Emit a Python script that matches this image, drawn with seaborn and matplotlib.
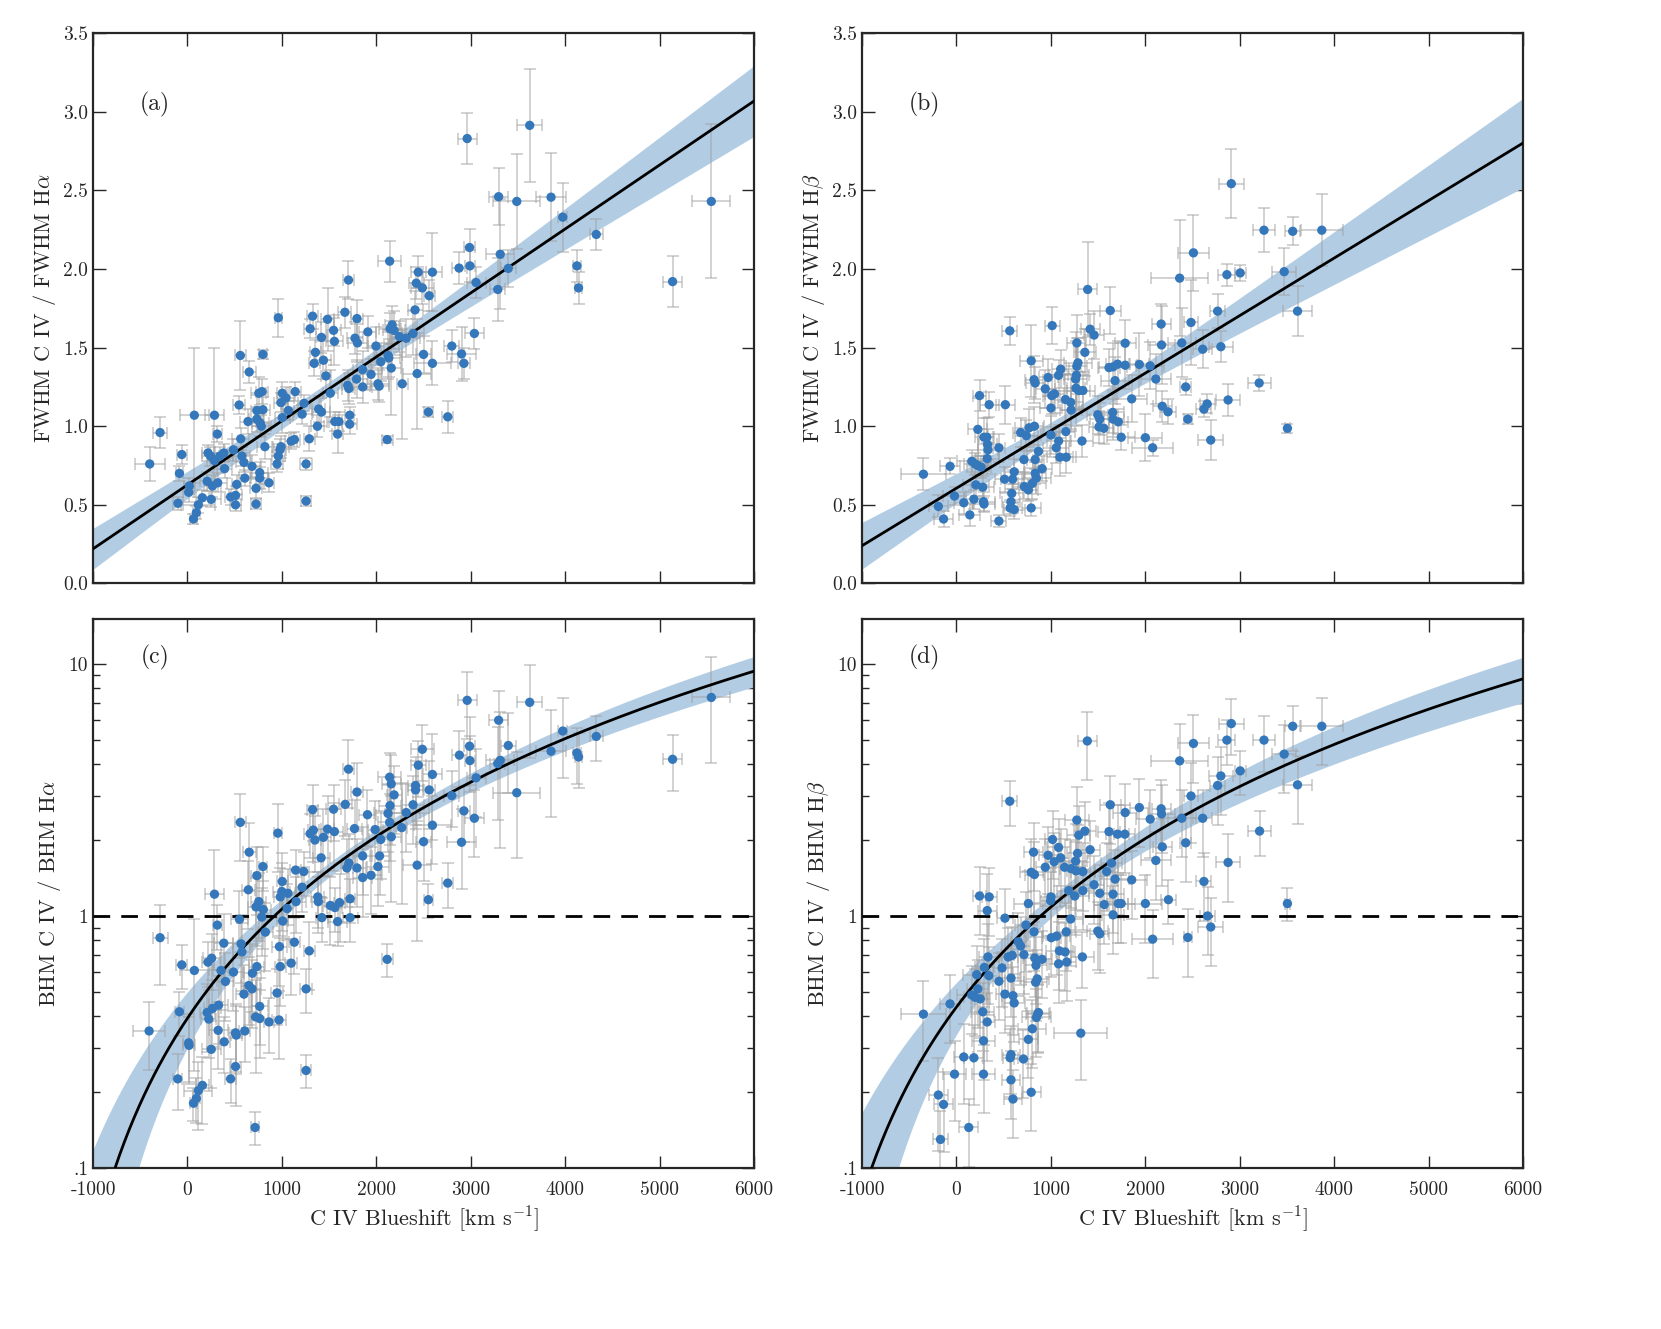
import numpy as np
import pandas as pd
import matplotlib
matplotlib.use('Agg')
import matplotlib.pyplot as plt
import seaborn as sns
from matplotlib.ticker import FixedLocator, FuncFormatter, LogLocator, NullFormatter

# (blueshift, ratio, blueshift error, ratio error)
pts_a = [(-400, 0.76, 160, 0.11), (-290, 0.96, 70, 0.10), (-60, 0.82, 50, 0.06), (-85, 0.70, 40, 0.05),
         (-100, 0.51, 50, 0.04), (13, 0.58, 60, 0.06), (20, 0.62, 60, 0.05), (73, 1.07, 150, 0.43),
         (64, 0.41, 40, 0.03), (94, 0.45, 40, 0.04), (115, 0.50, 180, 0.05), (158, 0.545, 70, 0.05),
         (252, 0.535, 100, 0.05), (218, 0.83, 60, 0.05), (244, 0.81, 90, 0.06), (286, 1.07, 100, 0.43),
         (316, 0.95, 50, 0.05), (209, 0.65, 80, 0.06), (265, 0.62, 90, 0.07), (320, 0.64, 100, 0.06),
         (286, 0.78, 80, 0.05), (342, 0.81, 100, 0.06), (393, 0.73, 80, 0.06), (385, 0.83, 90, 0.06),
         (457, 0.55, 60, 0.05), (509, 0.56, 70, 0.06), (509, 0.50, 60, 0.04), (521, 0.63, 50, 0.06),
         (487, 0.85, 100, 0.07), (564, 0.92, 90, 0.07), (577, 0.81, 90, 0.06), (598, 0.77, 80, 0.06),
         (607, 0.67, 60, 0.05), (547, 1.135, 60, 0.06), (560, 1.45, 60, 0.22), (654, 1.345, 70, 0.07),
         (641, 1.03, 80, 0.08), (684, 0.745, 90, 0.07), (726, 0.605, 60, 0.06), (726, 0.505, 50, 0.03),
         (765, 0.67, 90, 0.07), (765, 0.705, 90, 0.07), (863, 0.64, 50, 0.06), (820, 0.87, 80, 0.08),
         (735, 1.10, 60, 0.10), (756, 1.21, 80, 0.10), (790, 1.22, 60, 0.08), (799, 1.457, 40, 0.03),
         (799, 1.105, 80, 0.08), (735, 1.045, 80, 0.08), (770, 1.02, 90, 0.08), (782, 1.00, 100, 0.07),
         (949, 0.76, 60, 0.05), (962, 0.81, 70, 0.08), (979, 0.85, 60, 0.07), (991, 0.87, 80, 0.07),
         (962, 1.69, 40, 0.12), (991, 1.15, 70, 0.06), (1004, 1.21, 60, 0.07), (1043, 1.18, 90, 0.07),
         (1068, 1.10, 60, 0.06), (1004, 1.055, 80, 0.10), (1141, 1.22, 60, 0.06), (1098, 0.905, 60, 0.05),
         (1132, 0.915, 60, 0.05), (1214, 1.077, 100, 0.06), (1256, 0.76, 60, 0.04), (1256, 0.524, 50, 0.03),
         (1235, 1.146, 60, 0.05), (1290, 0.92, 60, 0.08), (1299, 1.62, 60, 0.06), (1325, 1.70, 60, 0.08),
         (1342, 1.40, 60, 0.08), (1355, 1.47, 60, 0.08), (1376, 1.00, 70, 0.07), (1389, 1.11, 70, 0.08),
         (1419, 1.09, 90, 0.09), (1419, 1.565, 60, 0.10), (1440, 1.42, 80, 0.12), (1466, 1.32, 50, 0.10),
         (1483, 1.68, 70, 0.20), (1513, 1.21, 80, 0.15), (1547, 1.61, 80, 0.10), (1556, 1.54, 90, 0.15),
         (1560, 1.03, 80, 0.06), (1603, 1.03, 100, 0.06), (1590, 0.95, 60, 0.12), (1667, 1.725, 70, 0.10),
         (1705, 1.93, 60, 0.12), (1697, 1.26, 60, 0.10), (1709, 1.24, 70, 0.10), (1718, 1.07, 50, 0.05),
         (1718, 1.013, 80, 0.06), (1774, 1.56, 80, 0.10), (1795, 1.685, 60, 0.12), (1800, 1.53, 100, 0.12),
         (1791, 1.30, 120, 0.12), (1855, 1.36, 100, 0.12), (1855, 1.25, 100, 0.10), (1910, 1.60, 90, 0.10),
         (1944, 1.33, 120, 0.10), (1996, 1.51, 80, 0.12), (2017, 1.27, 120, 0.10), (2030, 1.255, 100, 0.10),
         (2047, 1.41, 120, 0.12), (2124, 1.45, 150, 0.15), (2132, 1.435, 120, 0.12), (2115, 0.915, 60, 0.02),
         (2141, 2.05, 120, 0.13), (2158, 1.37, 100, 0.30), (2145, 1.62, 120, 0.10), (2167, 1.645, 80, 0.12),
         (2188, 1.61, 120, 0.12), (2244, 1.57, 100, 0.10), (2274, 1.27, 60, 0.35), (2316, 1.56, 150, 0.12),
         (2389, 1.59, 120, 0.14), (2410, 1.74, 80, 0.12), (2423, 1.91, 80, 0.10), (2444, 1.98, 80, 0.10),
         (2487, 1.88, 120, 0.10), (2500, 1.457, 80, 0.12), (2432, 1.335, 150, 0.35), (2551, 1.09, 50, 0.03),
         (2560, 1.83, 60, 0.10), (2594, 1.98, 100, 0.25), (2594, 1.40, 200, 0.14), (2756, 1.06, 60, 0.10),
         (2799, 1.51, 80, 0.10), (2876, 2.006, 80, 0.10), (2902, 1.46, 150, 0.17), (2927, 1.40, 60, 0.10),
         (2962, 2.83, 100, 0.16), (2987, 2.137, 60, 0.12), (2991, 2.02, 50, 0.10), (3038, 1.59, 100, 0.10),
         (3056, 1.914, 100, 0.10), (3286, 1.87, 80, 0.20), (3295, 2.46, 100, 0.18), (3312, 2.094, 150, 0.35),
         (3397, 2.004, 80, 0.12), (3487, 2.43, 250, 0.30), (3624, 2.914, 130, 0.36), (3850, 2.457, 160, 0.28),
         (3974, 2.33, 50, 0.22), (4124, 2.02, 40, 0.10), (4141, 1.88, 40, 0.10), (4329, 2.22, 70, 0.10),
         (5137, 1.92, 100, 0.16), (5547, 2.43, 200, 0.49)]

pts_b = [(-350, 0.695, 240, 0.10), (-68, 0.745, 110, 0.05), (-192, 0.49, 100, 0.07), (-137, 0.41, 100, 0.05),
         (-21, 0.556, 120, 0.06), (77, 0.513, 100, 0.07), (141, 0.436, 110, 0.07), (184, 0.536, 100, 0.06),
         (162, 0.777, 160, 0.07), (197, 0.76, 120, 0.07), (226, 0.75, 120, 0.06), (261, 0.74, 100, 0.07),
         (205, 0.627, 140, 0.07), (278, 0.612, 120, 0.07), (286, 0.52, 120, 0.06), (291, 0.505, 120, 0.05),
         (226, 0.98, 100, 0.20), (244, 1.195, 70, 0.10), (291, 0.93, 100, 0.12), (321, 0.93, 80, 0.12),
         (329, 0.884, 100, 0.10), (333, 0.85, 110, 0.10), (325, 0.794, 120, 0.10), (346, 1.137, 100, 0.08),
         (449, 0.863, 60, 0.09), (449, 0.397, 80, 0.04), (509, 0.663, 100, 0.08), (517, 1.137, 100, 0.12),
         (564, 1.607, 80, 0.09), (568, 0.48, 80, 0.05), (577, 0.52, 100, 0.08), (585, 0.573, 120, 0.06),
         (594, 0.663, 120, 0.06), (611, 0.71, 110, 0.08), (611, 0.47, 110, 0.06), (679, 0.96, 80, 0.09),
         (714, 0.788, 100, 0.08), (718, 0.616, 120, 0.08), (761, 0.595, 100, 0.07), (739, 0.94, 120, 0.10),
         (769, 0.99, 150, 0.12), (791, 1.416, 120, 0.23), (791, 0.48, 100, 0.05), (803, 0.637, 150, 0.10),
         (821, 1.296, 100, 0.15), (833, 1.275, 100, 0.10), (825, 1.00, 100, 0.12), (833, 0.788, 90, 0.06),
         (833, 0.70, 120, 0.07), (846, 0.67, 150, 0.10), (868, 0.84, 120, 0.10), (906, 0.73, 100, 0.08),
         (940, 1.238, 100, 0.12), (970, 1.31, 100, 0.12), (1000, 1.116, 120, 0.12), (1000, 0.944, 100, 0.12),
         (1013, 1.64, 80, 0.12), (1009, 1.195, 90, 0.12), (1038, 1.206, 100, 0.12), (1056, 0.863, 140, 0.10),
         (1081, 0.906, 120, 0.10), (1094, 0.803, 140, 0.12), (1081, 1.324, 100, 0.10), (1103, 1.363, 90, 0.12),
         (1154, 1.17, 120, 0.16), (1158, 0.966, 100, 0.14), (1162, 0.803, 100, 0.10), (1209, 1.152, 130, 0.18),
         (1214, 1.103, 120, 0.12), (1261, 1.30, 120, 0.30), (1269, 1.324, 130, 0.22), (1274, 1.382, 110, 0.18),
         (1286, 1.403, 150, 0.16), (1274, 1.53, 100, 0.18), (1265, 1.242, 100, 0.12), (1295, 1.227, 120, 0.12),
         (1329, 0.906, 120, 0.10), (1338, 1.227, 130, 0.12), (1359, 1.47, 120, 0.15), (1389, 1.87, 100, 0.30),
         (1415, 1.617, 100, 0.10), (1457, 1.58, 110, 0.15), (1496, 1.073, 110, 0.12), (1517, 1.045, 100, 0.10),
         (1509, 0.996, 110, 0.10), (1560, 0.987, 110, 0.10), (1615, 1.373, 120, 0.12), (1628, 1.736, 110, 0.15),
         (1654, 1.088, 120, 0.13), (1658, 1.045, 120, 0.13), (1658, 1.378, 150, 0.15), (1679, 1.29, 150, 0.15),
         (1705, 1.395, 120, 0.15), (1714, 1.028, 100, 0.08), (1744, 0.93, 150, 0.08), (1786, 1.528, 110, 0.15),
         (1786, 1.388, 130, 0.15), (1855, 1.174, 160, 0.15), (1936, 1.393, 100, 0.20), (2000, 0.927, 180, 0.15),
         (2051, 1.384, 150, 0.15), (2077, 0.863, 220, 0.05), (2111, 1.30, 160, 0.16), (2167, 1.65, 100, 0.13),
         (2171, 1.517, 140, 0.25), (2179, 1.127, 100, 0.10), (2239, 1.092, 80, 0.08), (2363, 1.942, 300, 0.37),
         (2385, 1.53, 150, 0.22), (2427, 1.25, 60, 0.05), (2449, 1.045, 40, 0.03), (2483, 1.66, 70, 0.27),
         (2509, 2.103, 160, 0.24), (2607, 1.49, 100, 0.12), (2620, 1.109, 80, 0.05), (2654, 1.142, 80, 0.06),
         (2692, 0.912, 130, 0.13), (2765, 1.732, 80, 0.11), (2799, 1.506, 130, 0.10), (2863, 1.964, 90, 0.07),
         (2876, 1.167, 130, 0.10), (2910, 2.543, 130, 0.22), (3004, 1.975, 60, 0.05), (3205, 1.275, 120, 0.05),
         (3256, 2.247, 120, 0.14), (3470, 1.983, 130, 0.15), (3504, 0.987, 30, 0.03), (3560, 2.24, 80, 0.09),
         (3611, 1.732, 150, 0.16), (3868, 2.247, 220, 0.23)]

# (blueshift, ratio, blueshift error, relative ratio error)
pts_c = [(-406, 0.35, 170, 0.3), (-290, 0.82, 80, 0.35), (-60, 0.64, 60, 0.2), (-85, 0.417, 50, 0.2),
         (-103, 0.226, 50, 0.25), (13, 0.314, 60, 0.3), (17, 0.307, 60, 0.3), (73, 0.608, 150, 0.6),
         (64, 0.181, 40, 0.15), (94, 0.189, 40, 0.2), (115, 0.203, 150, 0.3), (158, 0.213, 70, 0.3),
         (252, 0.296, 100, 0.3), (218, 0.656, 60, 0.2), (256, 0.68, 90, 0.25), (286, 1.22, 100, 0.5),
         (316, 0.92, 50, 0.2), (209, 0.414, 80, 0.3), (226, 0.39, 80, 0.3), (265, 0.43, 90, 0.3),
         (329, 0.443, 100, 0.3), (325, 0.352, 100, 0.3), (385, 0.78, 100, 0.3), (355, 0.608, 80, 0.3),
         (402, 0.55, 90, 0.3), (389, 0.317, 60, 0.25), (457, 0.226, 60, 0.2), (509, 0.253, 60, 0.3),
         (509, 0.344, 70, 0.3), (517, 0.337, 60, 0.3), (487, 0.599, 100, 0.3), (551, 0.97, 90, 0.3),
         (560, 2.35, 60, 0.3), (568, 0.775, 90, 0.3), (577, 0.72, 90, 0.3), (598, 0.49, 80, 0.3),
         (607, 0.35, 60, 0.25), (645, 1.27, 70, 0.3), (654, 1.79, 70, 0.3), (650, 0.53, 80, 0.3),
         (684, 0.514, 90, 0.3), (688, 0.593, 90, 0.3), (735, 1.445, 60, 0.3), (735, 0.63, 80, 0.3),
         (726, 1.086, 80, 0.3), (756, 1.14, 80, 0.3), (765, 0.438, 90, 0.3), (722, 0.398, 60, 0.4),
         (765, 0.392, 90, 0.3), (786, 0.99, 60, 0.3), (799, 1.57, 40, 0.2), (803, 1.06, 80, 0.3),
         (825, 0.863, 80, 0.3), (863, 0.38, 50, 0.25), (957, 2.13, 40, 0.3), (949, 0.495, 60, 0.25),
         (970, 0.387, 70, 0.3), (974, 0.756, 80, 0.3), (983, 0.63, 60, 0.3), (983, 1.19, 70, 0.3),
         (1004, 1.37, 60, 0.3), (1000, 1.25, 90, 0.3), (1009, 0.955, 60, 0.3), (1056, 1.07, 60, 0.25),
         (1064, 1.23, 80, 0.25), (1098, 0.65, 60, 0.25), (1132, 0.787, 60, 0.25), (1150, 1.14, 100, 0.25),
         (1145, 1.52, 60, 0.2), (1214, 1.30, 60, 0.2), (1231, 1.5, 60, 0.2), (1256, 0.514, 60, 0.2),
         (1256, 0.244, 50, 0.15), (1290, 0.727, 60, 0.3), (1299, 2.12, 60, 0.2), (1325, 2.64, 60, 0.25),
         (1333, 2.19, 60, 0.25), (1350, 2.0, 60, 0.25), (1380, 1.19, 70, 0.25), (1385, 1.14, 70, 0.25),
         (1415, 1.7, 90, 0.3), (1423, 0.985, 60, 0.2), (1440, 2.05, 80, 0.3), (1483, 2.21, 70, 0.35),
         (1513, 1.1, 80, 0.3), (1547, 2.65, 80, 0.25), (1556, 2.16, 90, 0.3), (1560, 1.08, 80, 0.2),
         (1590, 0.95, 100, 0.2), (1611, 1.13, 60, 0.3), (1671, 2.77, 70, 0.25), (1705, 3.82, 60, 0.3),
         (1688, 1.55, 60, 0.3), (1709, 1.62, 70, 0.3), (1722, 1.17, 50, 0.2), (1722, 0.985, 80, 0.2),
         (1769, 2.22, 80, 0.3), (1795, 3.1, 60, 0.3), (1795, 1.55, 100, 0.3), (1855, 1.73, 100, 0.3),
         (1855, 1.42, 100, 0.3), (1906, 2.52, 90, 0.25), (1944, 1.45, 120, 0.3), (1987, 2.2, 80, 0.3),
         (2017, 1.57, 120, 0.3), (2034, 1.73, 100, 0.3), (2047, 2.01, 120, 0.3), (2115, 0.673, 60, 0.15),
         (2124, 2.55, 150, 0.3), (2141, 3.55, 120, 0.25), (2145, 2.74, 120, 0.3), (2158, 3.34, 100, 0.3),
         (2158, 2.06, 100, 0.45), (2188, 3.02, 80, 0.3), (2141, 2.35, 120, 0.3), (2269, 2.24, 60, 0.5),
         (2316, 2.57, 150, 0.3), (2389, 2.76, 120, 0.3), (2415, 3.29, 80, 0.3), (2415, 3.16, 80, 0.3),
         (2432, 1.59, 150, 0.5), (2444, 3.96, 80, 0.25), (2487, 4.58, 120, 0.25), (2500, 1.97, 80, 0.3),
         (2551, 1.16, 50, 0.15), (2560, 3.16, 60, 0.3), (2594, 3.64, 100, 0.45), (2594, 2.29, 200, 0.3),
         (2756, 1.35, 60, 0.2), (2799, 3.0, 80, 0.25), (2880, 4.34, 80, 0.25), (2902, 1.96, 150, 0.35),
         (2927, 2.61, 60, 0.25), (2962, 7.16, 100, 0.3), (2987, 4.71, 60, 0.3), (2991, 4.13, 50, 0.25),
         (3038, 2.44, 100, 0.3), (3056, 3.53, 100, 0.3), (3286, 4.02, 80, 0.4), (3295, 5.97, 100, 0.3),
         (3312, 4.14, 150, 0.55), (3397, 4.74, 80, 0.35), (3487, 3.08, 250, 0.45), (3624, 7.03, 130, 0.4),
         (3850, 4.5, 160, 0.45), (3974, 5.41, 50, 0.35), (4124, 4.43, 40, 0.25), (4141, 4.27, 40, 0.25),
         (4329, 5.15, 70, 0.2), (5137, 4.18, 100, 0.25), (5547, 7.35, 200, 0.45), (716, 0.145, 40, 0.15)]

pts_d = [(-350, 0.408, 240, 0.35), (-68, 0.448, 110, 0.3), (-192, 0.195, 100, 0.4), (-137, 0.179, 100, 0.35),
         (-21, 0.236, 120, 0.35), (77, 0.276, 100, 0.35), (184, 0.274, 100, 0.35), (162, 0.486, 160, 0.3),
         (197, 0.476, 120, 0.3), (226, 0.514, 120, 0.3), (252, 0.469, 100, 0.3), (214, 0.585, 140, 0.3),
         (278, 0.417, 120, 0.3), (286, 0.32, 120, 0.3), (286, 0.236, 120, 0.3), (244, 1.2, 70, 0.3),
         (346, 1.19, 80, 0.3), (325, 1.05, 100, 0.4), (295, 0.625, 100, 0.3), (325, 0.38, 80, 0.3),
         (333, 0.688, 100, 0.35), (342, 0.58, 120, 0.3), (449, 0.551, 60, 0.3), (483, 0.622, 100, 0.3),
         (513, 0.98, 80, 0.3), (513, 0.49, 100, 0.3), (564, 2.85, 80, 0.2), (547, 0.688, 100, 0.3),
         (577, 0.567, 100, 0.3), (590, 0.698, 120, 0.3), (598, 0.483, 120, 0.3), (611, 0.452, 110, 0.3),
         (568, 0.274, 80, 0.3), (577, 0.282, 100, 0.3), (577, 0.224, 100, 0.3), (598, 0.188, 100, 0.3),
         (654, 0.79, 80, 0.3), (679, 0.76, 100, 0.3), (714, 0.703, 100, 0.3), (709, 0.271, 100, 0.3),
         (735, 0.92, 120, 0.35), (761, 1.12, 150, 0.35), (761, 0.324, 100, 0.3), (791, 1.49, 120, 0.35),
         (816, 1.79, 100, 0.3), (825, 1.46, 100, 0.35), (821, 0.865, 100, 0.3), (803, 0.357, 150, 0.3),
         (791, 0.2, 100, 0.3), (829, 0.681, 120, 0.3), (842, 0.637, 120, 0.3), (838, 0.546, 120, 0.3),
         (855, 0.563, 120, 0.3), (846, 0.396, 150, 0.3), (859, 0.408, 120, 0.3), (868, 0.414, 120, 0.3),
         (906, 0.673, 100, 0.3), (940, 1.56, 100, 0.3), (970, 1.74, 100, 0.3), (1000, 1.19, 120, 0.3),
         (996, 1.15, 100, 0.3), (1004, 0.82, 100, 0.3), (1017, 2.01, 80, 0.3), (1034, 1.64, 90, 0.3),
         (1060, 0.832, 140, 0.3), (1081, 1.87, 120, 0.3), (1090, 0.727, 140, 0.3), (1081, 0.646, 100, 0.3),
         (1103, 1.7, 90, 0.3), (1145, 1.56, 120, 0.3), (1150, 0.72, 100, 0.3), (1162, 0.865, 100, 0.3),
         (1167, 0.657, 100, 0.3), (1209, 0.973, 130, 0.35), (1188, 1.26, 120, 0.3), (1214, 1.54, 120, 0.3),
         (1261, 1.65, 120, 0.4), (1274, 2.4, 130, 0.35), (1282, 1.77, 110, 0.3), (1252, 1.2, 150, 0.3),
         (1265, 1.51, 100, 0.3), (1295, 2.09, 120, 0.3), (1333, 0.688, 120, 0.25), (1338, 1.5, 130, 0.3),
         (1338, 1.26, 120, 0.3), (1316, 0.343, 280, 0.35), (1359, 2.17, 120, 0.3), (1385, 4.94, 100, 0.3),
         (1415, 1.83, 100, 0.3), (1457, 1.33, 110, 0.3), (1496, 0.871, 110, 0.3), (1517, 0.849, 100, 0.3),
         (1517, 1.23, 110, 0.3), (1564, 1.11, 110, 0.3), (1590, 1.5, 120, 0.3), (1615, 2.16, 120, 0.3),
         (1628, 2.76, 110, 0.3), (1641, 1.62, 110, 0.3), (1658, 1.22, 120, 0.3), (1658, 1.01, 120, 0.3),
         (1679, 1.4, 150, 0.3), (1705, 2.11, 120, 0.3), (1714, 1.12, 100, 0.3), (1744, 1.12, 150, 0.3),
         (1782, 2.11, 110, 0.3), (1786, 2.57, 130, 0.3), (1855, 1.39, 160, 0.3), (1936, 2.69, 100, 0.3),
         (2000, 1.12, 180, 0.3), (2051, 2.42, 150, 0.3), (2077, 0.809, 220, 0.3), (2111, 1.66, 160, 0.3),
         (2167, 2.66, 100, 0.3), (2171, 2.54, 140, 0.3), (2179, 1.88, 100, 0.3), (2244, 1.16, 80, 0.2),
         (2363, 4.12, 300, 0.4), (2385, 2.44, 150, 0.3), (2427, 1.95, 60, 0.3), (2449, 0.822, 40, 0.3),
         (2483, 2.99, 70, 0.35), (2509, 4.83, 160, 0.3), (2607, 2.44, 100, 0.3), (2620, 1.37, 80, 0.3),
         (2658, 1.0, 80, 0.3), (2692, 0.904, 130, 0.3), (2765, 3.29, 80, 0.3), (2799, 3.59, 130, 0.3),
         (2863, 4.98, 90, 0.2), (2876, 1.63, 130, 0.3), (2910, 5.79, 130, 0.25), (3004, 3.76, 60, 0.2),
         (3209, 2.17, 120, 0.2), (3256, 4.98, 120, 0.25), (3470, 4.38, 130, 0.3), (3504, 1.12, 30, 0.15),
         (3560, 5.65, 80, 0.2), (3611, 3.31, 150, 0.3), (3868, 5.65, 220, 0.3), (-170, 0.13, 80, 0.3),
         (130, 0.145, 100, 0.3)]

# fitted relations: ratio = a + b*x (c, d: sqrt of ratio), band half width about pivot
fit_a = dict(a=0.627, b=4.07e-4, s0=0.045, s1=4.9e-5, xc=1500)
fit_b = dict(a=0.606, b=3.66e-4, s0=0.05, s1=6.0e-5, xc=1333)
fit_c = dict(a=0.627, b=4.05e-4, s0=0.04, s1=4.6e-5, xc=1500)
fit_d = dict(a=0.660, b=3.82e-4, s0=0.05, s1=6.0e-5, xc=1000)

panel_labels = ['(a)', '(b)', '(c)', '(d)']
ylabels = ['FWHM C IV / FWHM H$\\alpha$', 'FWHM C IV / FWHM H$\\beta$',
           'BHM C IV / BHM H$\\alpha$', 'BHM C IV / BHM H$\\beta$']
xlabel = 'C IV Blueshift [km s$^{-1}$]'
xticks = [-1000, 0, 1000, 2000, 3000, 4000, 5000, 6000]
lin_yticks = [0.0, 0.5, 1.0, 1.5, 2.0, 2.5, 3.0, 3.5]
log_ticks = [0.1, 1, 10]
log_ticklabels = ['.1', '1', '10']

sns.set_style('ticks')
plt.rcParams['font.family'] = ['cmr10', 'DejaVu Serif']
plt.rcParams['mathtext.fontset'] = 'cm'
plt.rcParams['axes.unicode_minus'] = False
plt.rcParams['axes.formatter.use_mathtext'] = True

pt_col = '#3478bb'
band_col = '#b2cde3'

fig = plt.figure(figsize=(16.61, 13.29), dpi=100)
lefts = [0.056, 0.519]
w = 0.398
boxes = [(lefts[0], 0.561, w, 0.414), (lefts[1], 0.561, w, 0.414),
         (lefts[0], 0.121, w, 0.413), (lefts[1], 0.121, w, 0.413)]

grid = np.linspace(-1000, 6000, 400)


def log_fmt(v, p):
    for t, s in zip(log_ticks, log_ticklabels):
        if abs(v - t) < 1e-9:
            return s
    return ''


for i, (pts, fit) in enumerate(zip([pts_a, pts_b, pts_c, pts_d], [fit_a, fit_b, fit_c, fit_d])):
    ax = fig.add_axes(boxes[i])
    df = pd.DataFrame(pts, columns=['x', 'y', 'xe', 'ye'])
    logp = i >= 2
    if logp:
        ax.set_yscale('log')
        df['ye'] = df['ye'] * df['y']
    line = fit['a'] + fit['b'] * grid
    hw = np.sqrt(fit['s0'] ** 2 + (fit['s1'] * (grid - fit['xc'])) ** 2)
    lo, hi = line - hw, line + hw
    if logp:
        line, lo, hi = line ** 2, np.clip(lo, 0.01, None) ** 2, hi ** 2
    ax.fill_between(grid, lo, hi, color=band_col, lw=0, zorder=1)
    ax.errorbar(df['x'], df['y'], xerr=df['xe'], yerr=df['ye'], fmt='none',
                ecolor='#a0a0a0', alpha=0.55, elinewidth=1.2, capsize=4, capthick=1.2, zorder=2)
    if logp:
        ax.axhline(1.0, color='k', ls=(0, (6, 4)), lw=2, zorder=3)
    sns.lineplot(x=grid, y=line, ax=ax, color='k', lw=2, estimator=None, zorder=3)
    sns.scatterplot(data=df, x='x', y='y', ax=ax, color=pt_col, s=45, edgecolor='none', zorder=4)

    ax.set_xlim(-1000, 6000)
    ax.xaxis.set_major_locator(FixedLocator(xticks))
    if logp:
        ax.set_ylim(0.1, 15)
        ax.yaxis.set_major_locator(FixedLocator(log_ticks))
        ax.yaxis.set_major_formatter(FuncFormatter(log_fmt))
        ax.yaxis.set_minor_locator(LogLocator(base=10, subs=np.arange(2, 10)))
        ax.yaxis.set_minor_formatter(NullFormatter())
        ax.xaxis.set_major_formatter(FuncFormatter(lambda v, p: str(int(v))))
        ax.set_xlabel(xlabel, fontsize=16)
    else:
        ax.set_ylim(0, 3.5)
        ax.yaxis.set_major_locator(FixedLocator(lin_yticks))
        ax.yaxis.set_major_formatter(FuncFormatter(lambda v, p: '%.1f' % v))
        ax.set_xticklabels([])
        ax.set_xlabel('')
    ax.set_ylabel(ylabels[i], fontsize=16)
    ax.tick_params(which='both', direction='in', top=True, right=True, labelsize=14, width=1)
    ax.tick_params(which='major', length=9)
    ax.tick_params(which='minor', length=5)
    ax.tick_params(axis='x', pad=9)
    for s in ax.spines.values():
        s.set_linewidth(1.6)
    ax.text(0.094, 0.931 if logp else 0.871, panel_labels[i], transform=ax.transAxes,
            fontsize=17, ha='center', va='center')

fig.savefig('out.png', dpi=100)
